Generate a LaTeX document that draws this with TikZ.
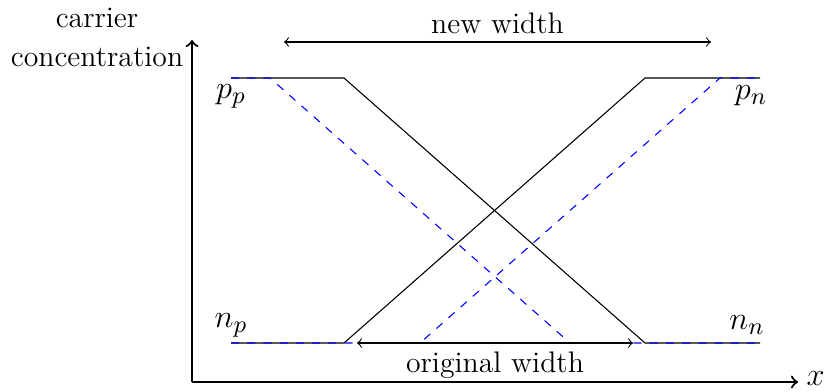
\documentclass[tikz,border=0pt]{standalone}
\begin{document}
\begin{tikzpicture}[x=0.37pt,y=-0.37pt,
  axis/.style={->,thick},
  prof/.style={black},
  shifted/.style={blue,dashed},
  widtharrow/.style={<->},
  lbl/.style={inner sep=0pt,font=\fontsize{11}{14.4}\selectfont},
  mlbl/.style={inner sep=0pt,font=\fontsize{13}{15}\selectfont}]
\useasboundingbox (0,0) rectangle (826,391);
% axes
\coordinate (O) at (192,382);
\coordinate (Ytop) at (192,40);
\coordinate (Xend) at (798,382);
\draw[axis] (O) -- (Ytop);
\draw[axis] (O) -- (Xend);
\node[mlbl,anchor=west] (xl) at (806,379) {$x$};
\node[lbl,align=center] (yl) at (97,37) {carrier\\concentration};
% original profile
\coordinate (A1) at (231,78);
\coordinate (A2) at (344,78);
\coordinate (A3) at (645,343);
\coordinate (A4) at (760,343);
\coordinate (B1) at (231,343);
\coordinate (B2) at (344,343);
\coordinate (B3) at (645,78);
\coordinate (B4) at (760,78);
\draw[prof] (A1) -- (A2) -- (A3) -- (A4);
\draw[prof] (B1) -- (B2) -- (B3) -- (B4);
% shifted profile
\coordinate (C2) at (270,78);
\coordinate (C3) at (570,343);
\coordinate (D2) at (420,343);
\coordinate (D3) at (720,78);
\draw[shifted] (A1) -- (C2) -- (C3) -- (A4);
\draw[shifted] (B1) -- (D2) -- (D3) -- (B4);
% labels
\node[mlbl] (pp) at (231,96) {$p_p$};
\node[mlbl] (pn) at (751,96) {$p_n$};
\node[mlbl] (np) at (231,325) {$n_p$};
\node[mlbl] (nn) at (747,325) {$n_n$};
% widths
\coordinate (N1) at (284,42);
\coordinate (N2) at (711,42);
\draw[widtharrow] (N1) -- node[lbl,above=3pt] (nw) {new width} (N2);
\coordinate (W1) at (357,343);
\coordinate (W2) at (633,343);
\draw[widtharrow] (W1) -- node[lbl,below=3pt] (ow) {original width} (W2);
\end{tikzpicture}
\end{document}
